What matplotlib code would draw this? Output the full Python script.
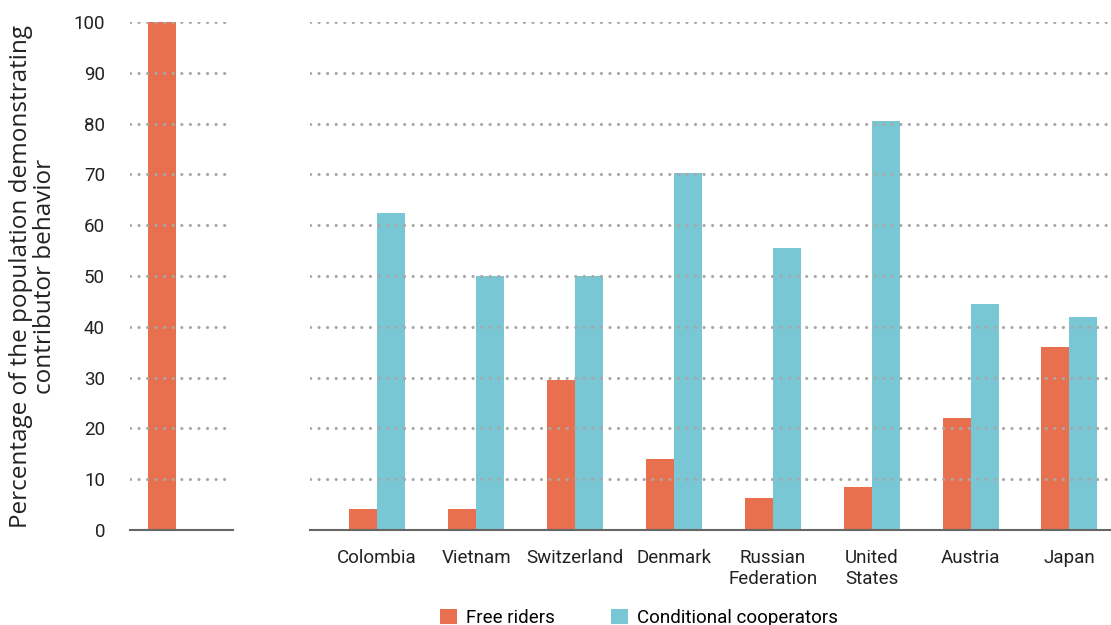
import matplotlib
matplotlib.use("Agg")
import matplotlib.pyplot as plt
import numpy as np

countries = ["Colombia", "Vietnam", "Switzerland", "Denmark",
             "Russian\nFederation", "United\nStates", "Austria", "Japan"]
free_riders = [4.2, 4.2, 29.5, 14.0, 6.3, 8.5, 22.0, 36.0]
cond_coop = [62.5, 50.0, 50.0, 70.3, 55.6, 80.5, 44.4, 41.9]
reference_free = [100]
yticks = list(range(0, 101, 10))

ORANGE = "#E8704E"
CYAN = "#79C7D4"
GRID = "#A8A8A8"
BASE = "#666666"
TXT = "#222222"

plt.rcParams['lines.scale_dashes'] = False
plt.rcParams['font.family'] = ['Roboto', 'DejaVu Sans']

fig = plt.figure(figsize=(11.11, 6.25), dpi=100)
bot = 1 - 530 / 625
hgt = 508 / 625
ax1 = fig.add_axes([130 / 1111, bot, 103 / 1111, hgt])
ax2 = fig.add_axes([310 / 1111, bot, 801 / 1111, hgt])

w = 0.283

def style(ax, xmax=1.0):
    for s in ["top", "right", "left"]:
        ax.spines[s].set_visible(False)
    ax.spines["bottom"].set_color(BASE)
    ax.spines["bottom"].set_linewidth(1.5)
    ax.set_ylim(0, 100)
    ax.tick_params(axis="both", length=0)
    for y in yticks[1:]:
        ax.axhline(y, xmax=xmax, color=GRID, linestyle=(0, (0.01, 6.15)),
                   linewidth=2.3, dash_capstyle="round", zorder=3)

# left panel: reference bar
ax1.bar([0], reference_free, width=w, color=ORANGE, zorder=2)
ax1.set_xlim(-0.32, 0.72)
style(ax1, xmax=0.93)
ax1.set_xticks([])
ax1.set_yticks(yticks)
ax1.set_yticklabels([str(v) for v in yticks], fontsize=13.5, color=TXT)
ax1.tick_params(axis="y", pad=18)
ax1.set_ylabel("Percentage of the population demonstrating\ncontributor behavior",
               fontsize=17.5, family=["Open Sans", "DejaVu Sans"], color=TXT,
               labelpad=12, linespacing=1.0)

# right panel: countries
x = np.arange(len(countries))
ax2.bar(x - w / 2, free_riders, width=w, color=ORANGE, zorder=2, label="Free riders")
ax2.bar(x + w / 2, cond_coop, width=w, color=CYAN, zorder=2,
        label="Conditional cooperators")
ax2.set_xlim(-0.68, 7.42)
style(ax2)
ax2.set_yticks([])
ax2.set_xticks(x)
ax2.set_xticklabels(countries, fontsize=13.5, color=TXT, linespacing=1.15)
ax2.tick_params(axis="x", pad=14)

h, l = ax2.get_legend_handles_labels()
fig.legend(h, l, loc="lower center", bbox_to_anchor=(0.575, -0.03), ncol=2,
           frameon=False, fontsize=13.5, handlelength=0.9, handleheight=0.9,
           columnspacing=3.0, handletextpad=0.5)

fig.savefig("out.png", dpi=100)
